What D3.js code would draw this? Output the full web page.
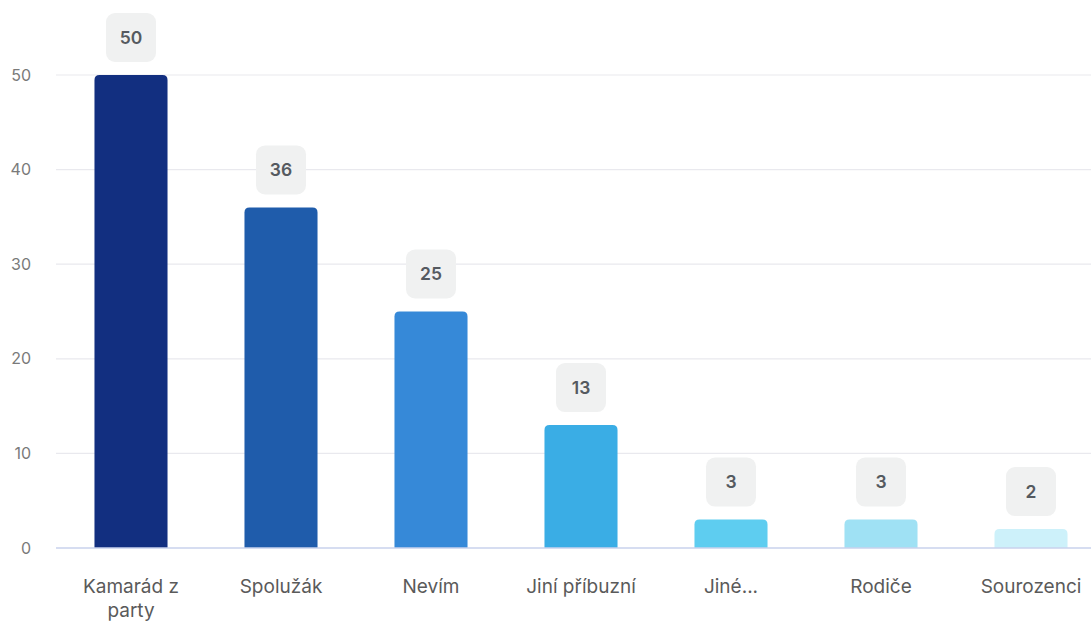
<!DOCTYPE html>
<html><head><meta charset="utf-8">
<script src="https://cdn.jsdelivr.net/npm/d3@7"></script>
<style>
html,body{margin:0;padding:0;background:#fff;}
svg{display:block;font-family:Inter, "Noto Sans", sans-serif;}
</style></head>
<body>
<svg id="chart" width="1091" height="622"></svg>
<script>
const categories = [["Kamarád z","party"],["Spolužák"],["Nevím"],["Jiní příbuzní"],["Jiné..."],["Rodiče"],["Sourozenci"]];
const values = [50, 36, 25, 13, 3, 3, 2];
const colors = ["#122f80","#1f5cab","#3689d8","#3aade5","#5ecdf0","#9fe1f4","#cdf1fa"];
const yTicks = [0, 10, 20, 30, 40, 50];

const svg = d3.select("#chart");
const mLeft = 56, mRight = 1106, mTop = 75, mBottom = 548;
const keys = categories.map((c,i)=>i);
const x = d3.scaleBand().domain(keys).range([mLeft, mRight]).paddingInner(0.513).paddingOuter(0.2565);
const y = d3.scaleLinear().domain([0, 50]).range([mBottom, mTop]);

// gridlines
svg.append("g").selectAll("line").data(yTicks.filter(t=>t>0)).join("line")
  .attr("x1", mLeft).attr("x2", 1091)
  .attr("y1", d=>y(d)).attr("y2", d=>y(d))
  .attr("stroke", "#e9e9ee").attr("stroke-width", 1.2);

// y axis labels
const yAxis = d3.axisLeft(y).tickValues(yTicks).tickSize(0).tickPadding(0);
const ga = svg.append("g").attr("transform", `translate(${31},0)`).call(yAxis);
ga.select(".domain").remove();
ga.selectAll("text").attr("fill", "#7a7a7a").attr("font-size", 16).attr("font-family","Inter");

// bars with rounded top
function barPath(x0, w, yTop, yBot, r) {
  r = Math.min(r, (yBot - yTop), w/2);
  return `M${x0},${yBot} L${x0},${yTop + r} Q${x0},${yTop} ${x0 + r},${yTop} L${x0 + w - r},${yTop} Q${x0 + w},${yTop} ${x0 + w},${yTop + r} L${x0 + w},${yBot} Z`;
}
svg.append("g").selectAll("path").data(values).join("path")
  .attr("d", (d,i)=>barPath(x(i), x.bandwidth(), y(d), y(0), 5))
  .attr("fill", (d,i)=>colors[i]);

// baseline
svg.append("line").attr("x1", mLeft).attr("x2", 1091).attr("y1", y(0)).attr("y2", y(0))
  .attr("stroke", "#c8d2ec").attr("stroke-width", 1.5);

// value labels
const lg = svg.append("g").selectAll("g").data(values).join("g")
  .attr("transform", (d,i)=>`translate(${x(i) + x.bandwidth()/2},${y(d) - 13})`);
lg.append("rect").attr("x", -25).attr("y", -49).attr("width", 50).attr("height", 49)
  .attr("rx", 9).attr("fill", "#f0f1f1");
lg.append("text").attr("y", -24.5).attr("dy", "0.35em").attr("text-anchor", "middle")
  .attr("font-size", 17.5).attr("font-weight", 600).attr("fill", "#555a60")
  .text(d=>d);

// category labels
const cg = svg.append("g").selectAll("text").data(categories).join("text")
  .attr("x", (d,i)=>x(i) + x.bandwidth()/2).attr("y", 593)
  .attr("text-anchor", "middle").attr("font-size", 19).attr("fill", "#5a5a5a");
cg.selectAll("tspan").data(d=>d).join("tspan")
  .attr("x", function(){ return d3.select(this.parentNode).attr("x"); })
  .attr("dy", (d,j)=>j===0 ? 0 : 24).text(d=>d);
</script>
</body></html>
